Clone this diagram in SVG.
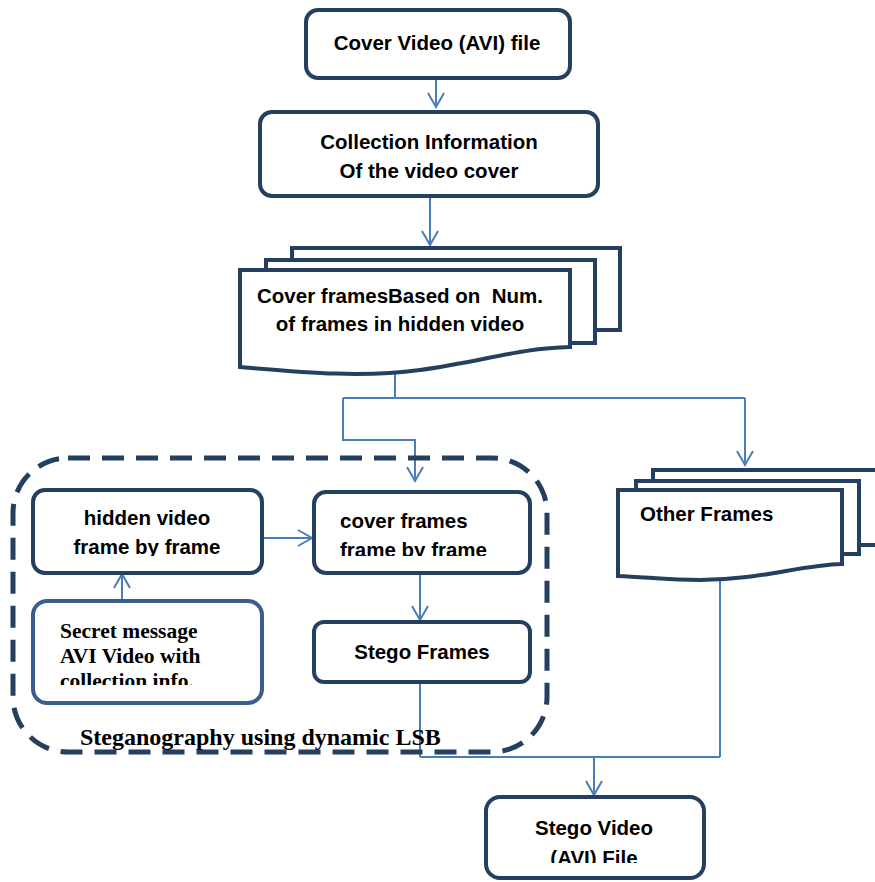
<svg xmlns="http://www.w3.org/2000/svg" width="875" height="882" viewBox="0 0 875 882">
<style>
.box{fill:#fff;stroke:#243F60;stroke-width:4}
.box2{fill:#fff;stroke:#3A5E8C;stroke-width:4}
.t{font-family:"Liberation Sans",Arial,sans-serif;font-weight:bold;font-size:20.5px;fill:#000}
.s{font-family:"Liberation Serif","Times New Roman",serif;font-weight:bold;font-size:21.5px;fill:#000}
.c{fill:none;stroke:#4A7EBB;stroke-width:2}
</style>
<defs>
<marker id="ah" viewBox="0 0 20 20" refX="18" refY="10" markerWidth="20" markerHeight="20" markerUnits="userSpaceOnUse" orient="auto">
<path d="M4,2 L18,10 L4,18" fill="none" stroke="#4A7EBB" stroke-width="2"/>
</marker>
<clipPath id="c1"><rect x="35" y="492" width="225" height="64"/></clipPath>
<clipPath id="c2"><rect x="316" y="494" width="212" height="62"/></clipPath>
<clipPath id="c3"><rect x="35" y="603" width="225" height="82"/></clipPath>
<clipPath id="c4"><rect x="488" y="799" width="214" height="64"/></clipPath>
</defs>
<rect width="875" height="882" fill="#fff"/>

<g id="connectors">
<path class="c" d="M436,79 V107" marker-end="url(#ah)"/>
<path class="c" d="M430,197 V245" marker-end="url(#ah)"/>
<path class="c" d="M395,372 V398 M343,398 H745"/>
<path class="c" d="M343,398 V440 H415 V481" marker-end="url(#ah)"/>
<path class="c" d="M745,398 V465" marker-end="url(#ah)"/>
<path class="c" d="M264,538 H312" marker-end="url(#ah)"/>
<path class="c" d="M122,601 V574" marker-end="url(#ah)"/>
<path class="c" d="M420,574 V620" marker-end="url(#ah)"/>
<path class="c" d="M420,683 V757 M420,757 H720 M720,580 V757"/>
<path class="c" d="M594,757 V795" marker-end="url(#ah)"/>
</g>

<g id="group-steg">
<rect x="13" y="458" width="534" height="294" rx="55" ry="55" fill="none" stroke="#243F60" stroke-width="5" stroke-dasharray="22,12"/>
<text class="s" x="80" y="745" style="font-size:24px">Steganography using dynamic LSB</text>
</g>

<g id="cover-video">
<rect class="box" x="306" y="10" width="264" height="68" rx="12"/>
<text class="t" x="437" y="50" text-anchor="middle">Cover Video (AVI) file</text>
</g>

<g id="collection-info">
<rect class="box" x="260" y="112" width="338" height="84" rx="12"/>
<text class="t" x="429" y="149" text-anchor="middle">Collection Information</text>
<text class="t" x="429" y="178" text-anchor="middle">Of the video cover</text>
</g>

<g id="cover-frames-doc">
<rect class="box" x="292" y="248" width="328" height="82"/>
<rect class="box" x="266" y="260" width="329" height="83"/>
<path class="box" d="M240,270 H570 V347 C520,348 480,362 420,370 C360,378 300,372 240,367 Z"/>
<text class="t" x="400" y="303" text-anchor="middle">Cover framesBased on &#160;Num.</text>
<text class="t" x="400" y="331" text-anchor="middle">of frames in hidden video</text>
</g>

<g id="other-frames">
<rect class="box" x="653" y="470" width="260" height="75"/>
<rect class="box" x="636" y="481" width="223" height="73"/>
<path class="box" d="M618,490 H842 V564 C800,565 760,580 700,580 C670,580 645,577 618,576 Z"/>
<text class="t" x="640" y="521">Other Frames</text>
</g>

<g id="hidden-video">
<rect class="box" x="33" y="490" width="229" height="83" rx="12"/>
<g clip-path="url(#c1)">
<text class="t" x="147" y="525" text-anchor="middle">hidden video</text>
<text class="t" x="147" y="554" text-anchor="middle">frame by frame</text>
</g>
</g>

<g id="cover-frames">
<rect class="box" x="314" y="492" width="216" height="81" rx="12"/>
<g clip-path="url(#c2)">
<text class="t" x="340" y="528">cover frames</text>
<text class="t" x="340" y="557">frame by frame</text>
</g>
</g>

<g id="secret-message">
<rect class="box2" x="33" y="601" width="229" height="102" rx="14"/>
<g clip-path="url(#c3)">
<text class="s" x="60" y="638">Secret message</text>
<text class="s" x="60" y="663">AVI Video with</text>
<text class="s" x="60" y="688">collection info.</text>
</g>
</g>

<g id="stego-frames">
<rect class="box" x="314" y="622" width="216" height="60" rx="10"/>
<text class="t" x="422" y="659" text-anchor="middle">Stego Frames</text>
</g>

<g id="stego-video">
<rect class="box" x="486" y="797" width="218" height="81" rx="14"/>
<g clip-path="url(#c4)">
<text class="t" x="594" y="835" text-anchor="middle">Stego Video</text>
<text class="t" x="594" y="865" text-anchor="middle">(AVI) File</text>
</g>
</g>
</svg>
